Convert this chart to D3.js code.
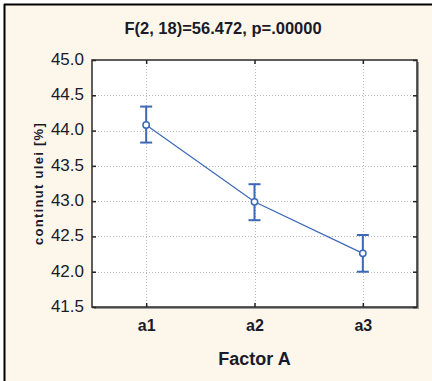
<!DOCTYPE html>
<html>
<head>
<meta charset="utf-8">
<script src="https://cdn.jsdelivr.net/npm/d3@7"></script>
<style>
  html, body { margin: 0; padding: 0; background: #ffffff; }
  svg { display: block; }
  text { font-family: "Liberation Sans", Arial, sans-serif; }
</style>
</head>
<body>
<svg id="chart" width="432" height="381"></svg>
<script>
// ---- data ----
const categories = ["a1", "a2", "a3"];
const means = [44.08, 42.99, 42.26];
const ciLow = [43.83, 42.73, 42.00];
const ciHigh = [44.34, 43.24, 42.52];
const yTicks = [41.5, 42.0, 42.5, 43.0, 43.5, 44.0, 44.5, 45.0];
const titleText = "F(2, 18)=56.472, p=.00000";
const xTitle = "Factor A";
const yTitle = "continut ulei [%]";

// ---- layout ----
const W = 432, H = 381;
const plot = { left: 92, right: 417, top: 60, bottom: 307 };
const blue = "#3d68b5";

const svg = d3.select("#chart");

// outer frame
svg.append("rect").attr("x", 4).attr("y", 4).attr("width", W - 4).attr("height", H - 4)
  .attr("fill", "#fcf7ea");
svg.append("line").attr("x1", 4).attr("x2", W).attr("y1", 4.5).attr("y2", 4.5)
  .attr("stroke", "#000").attr("stroke-width", 2);
svg.append("line").attr("x1", 4.5).attr("x2", 4.5).attr("y1", 4).attr("y2", H)
  .attr("stroke", "#000").attr("stroke-width", 2);

const x = d3.scalePoint().domain(categories).range([plot.left, plot.right]).padding(0.5);
const y = d3.scaleLinear().domain([41.5, 45.0]).range([plot.bottom, plot.top]);

// plot background + shadow
svg.append("rect").attr("x", plot.left + 2).attr("y", plot.top + 2)
  .attr("width", plot.right - plot.left).attr("height", plot.bottom - plot.top)
  .attr("fill", "#9a9a9a");
svg.append("rect").attr("x", plot.left).attr("y", plot.top)
  .attr("width", plot.right - plot.left).attr("height", plot.bottom - plot.top)
  .attr("fill", "#ffffff");

// grid
const grid = svg.append("g").attr("stroke", "#b8b8b8").attr("stroke-width", 1)
  .attr("stroke-dasharray", "1,2");
grid.selectAll(".gy").data(yTicks.filter(v => v > 41.5 && v < 45.0)).enter().append("line")
  .attr("x1", plot.left).attr("x2", plot.right)
  .attr("y1", d => Math.round(y(d)) + 0.5).attr("y2", d => Math.round(y(d)) + 0.5);
grid.selectAll(".gx").data(categories).enter().append("line")
  .attr("y1", plot.top).attr("y2", plot.bottom)
  .attr("x1", d => Math.round(x(d)) + 0.5).attr("x2", d => Math.round(x(d)) + 0.5);

// axes
const fmt = d3.format(".1f");
const yAxis = svg.append("g").attr("transform", `translate(${plot.left},0)`)
  .call(d3.axisLeft(y).tickValues(yTicks).tickFormat(fmt).tickSize(-4).tickPadding(8));
yAxis.select(".domain").remove();
yAxis.selectAll("line").attr("stroke", "#222").attr("stroke-width", 1.5);
yAxis.selectAll("text").attr("font-size", 17).attr("fill", "#1a1a2a").attr("dy", "0.26em");

const yAxisR = svg.append("g").attr("transform", `translate(${plot.right},0)`)
  .call(d3.axisRight(y).tickValues(yTicks).tickFormat("").tickSize(-4));
yAxisR.select(".domain").remove();
yAxisR.selectAll("line").attr("stroke", "#222").attr("stroke-width", 1.5);

const xAxis = svg.append("g").attr("transform", `translate(0,${plot.bottom})`)
  .call(d3.axisBottom(x).tickSize(-4).tickPadding(13));
xAxis.select(".domain").remove();
xAxis.selectAll("line").attr("stroke", "#222").attr("stroke-width", 1.5);
xAxis.selectAll("text").attr("font-size", 16).attr("font-weight", "bold").attr("fill", "#1a1a2a");

const xAxisT = svg.append("g").attr("transform", `translate(0,${plot.top})`)
  .call(d3.axisTop(x).tickSize(-4).tickFormat(""));
xAxisT.select(".domain").remove();
xAxisT.selectAll("line").attr("stroke", "#222").attr("stroke-width", 1.5);

// plot border
svg.append("rect").attr("x", plot.left).attr("y", plot.top)
  .attr("width", plot.right - plot.left).attr("height", plot.bottom - plot.top)
  .attr("fill", "none").attr("stroke", "#2a2a2a").attr("stroke-width", 1.5);

// data line
const pts = categories.map((c, i) => ({ c, m: means[i], lo: ciLow[i], hi: ciHigh[i] }));
svg.append("path").datum(pts)
  .attr("d", d3.line().x(d => x(d.c)).y(d => y(d.m)))
  .attr("fill", "none").attr("stroke", blue).attr("stroke-width", 1.2);

// error bars
const eb = svg.append("g").attr("stroke", blue).attr("stroke-width", 2);
eb.selectAll(".v").data(pts).enter().append("line")
  .attr("x1", d => x(d.c)).attr("x2", d => x(d.c))
  .attr("y1", d => y(d.lo)).attr("y2", d => y(d.hi));
eb.selectAll(".ct").data(pts).enter().append("line")
  .attr("x1", d => x(d.c) - 6).attr("x2", d => x(d.c) + 6)
  .attr("y1", d => y(d.hi)).attr("y2", d => y(d.hi));
eb.selectAll(".cb").data(pts).enter().append("line")
  .attr("x1", d => x(d.c) - 6).attr("x2", d => x(d.c) + 6)
  .attr("y1", d => y(d.lo)).attr("y2", d => y(d.lo));

// markers
svg.selectAll(".mk").data(pts).enter().append("circle")
  .attr("cx", d => x(d.c)).attr("cy", d => y(d.m)).attr("r", 3.2)
  .attr("fill", "#fff").attr("stroke", blue).attr("stroke-width", 1.5);

// titles
svg.append("text").attr("x", 223).attr("y", 34).attr("text-anchor", "middle")
  .attr("font-size", 16.5).attr("font-weight", "bold").attr("fill", "#1a1a2a").text(titleText);
svg.append("text").attr("x", (plot.left + plot.right) / 2).attr("y", 365).attr("text-anchor", "middle")
  .attr("font-size", 18).attr("font-weight", "bold").attr("fill", "#1a1a2a").text(xTitle);
svg.append("text")
  .attr("transform", `translate(43,${(plot.top + plot.bottom) / 2}) rotate(-90)`)
  .attr("text-anchor", "middle").attr("font-size", 13).attr("font-weight", "bold")
  .attr("letter-spacing", 1.3).attr("fill", "#1a1a2a").text(yTitle);
</script>
</body>
</html>
